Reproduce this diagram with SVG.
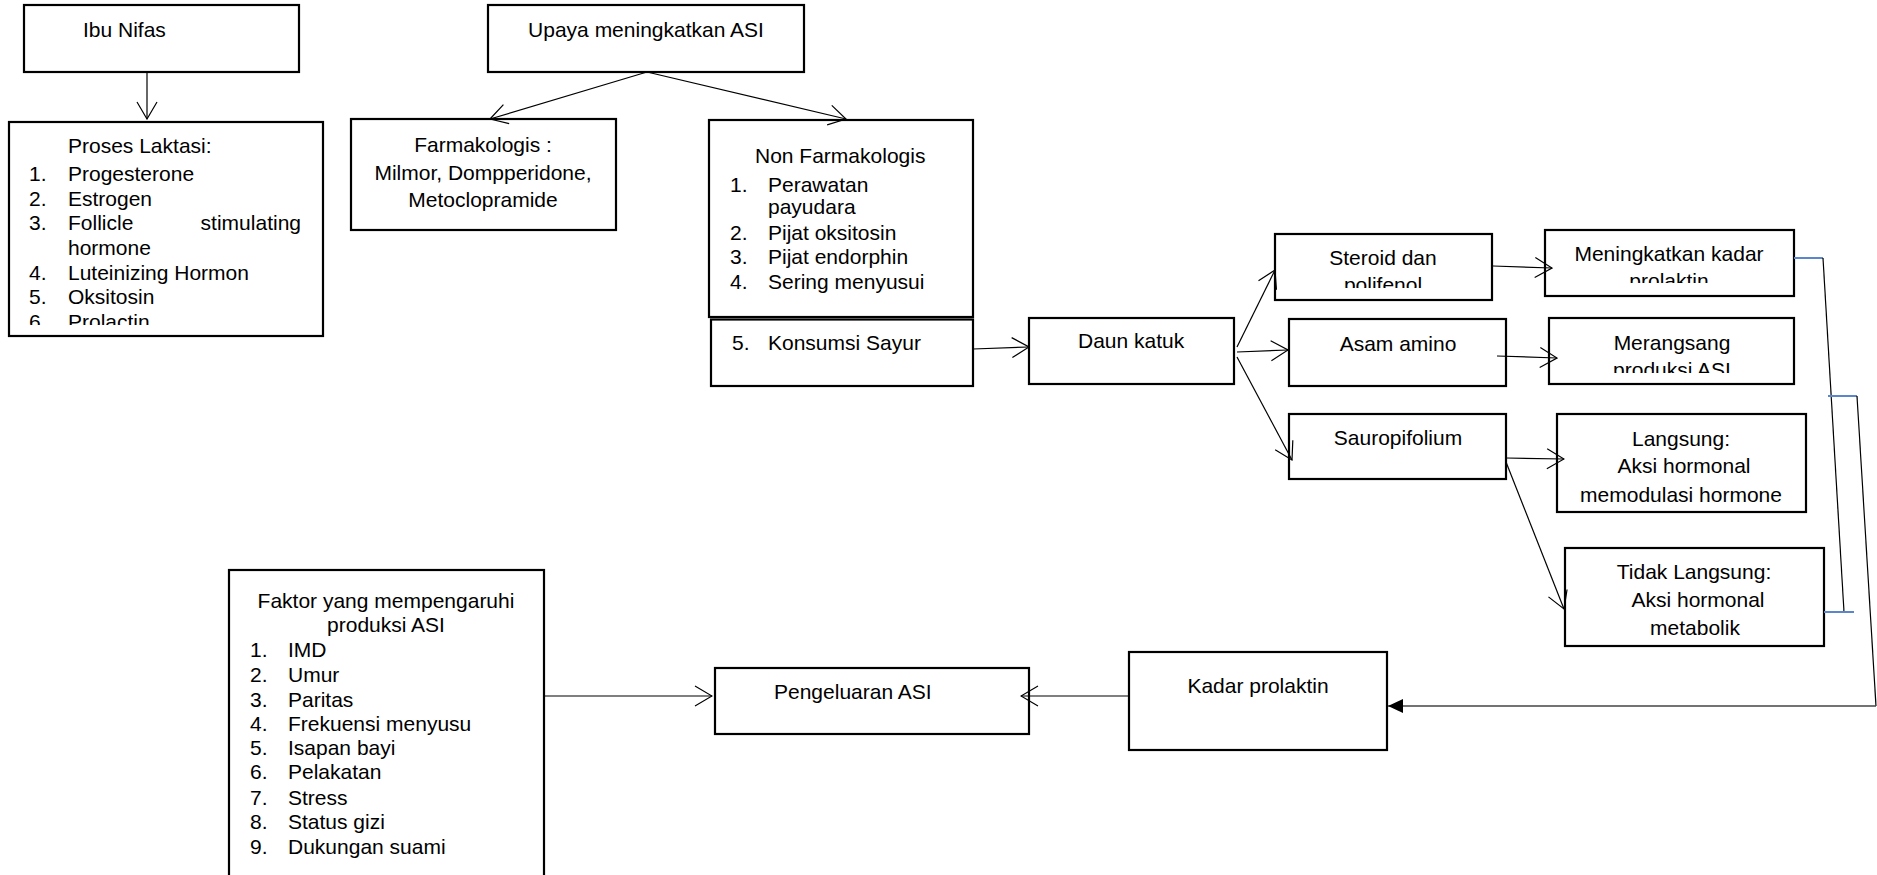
<svg xmlns="http://www.w3.org/2000/svg" width="1877" height="875" viewBox="0 0 1877 875">
<style>
.box{fill:#fff;stroke:#000;stroke-width:2.2}
text{font-family:"Liberation Sans",Arial,sans-serif;font-size:21px;fill:#000}
.c{text-anchor:middle}
.e{text-anchor:end}
.ln{stroke:#000;stroke-width:1.2;fill:none}
.blue{stroke:#5b86cc;stroke-width:2;fill:none}
</style>
<defs>
<marker id="open" markerUnits="userSpaceOnUse" markerWidth="19" markerHeight="22" viewBox="0 0 19 22" refX="18" refY="11" orient="auto">
<path d="M1,1 L18,11 L1,21" fill="none" stroke="#000" stroke-width="1.2"/>
</marker>
<marker id="solid" markerUnits="userSpaceOnUse" markerWidth="16" markerHeight="16" viewBox="0 0 16 16" refX="15" refY="8" orient="auto">
<path d="M0,1 L15,8 L0,15 z" fill="#000"/>
</marker>
<clipPath id="cpL"><rect x="9" y="122" width="314" height="203"/></clipPath>
<clipPath id="cpS"><rect x="1275" y="234" width="217" height="54"/></clipPath>
<clipPath id="cpM"><rect x="1545" y="230" width="249" height="53"/></clipPath>
<clipPath id="cpR"><rect x="1549" y="318" width="245" height="55"/></clipPath>
</defs>

<g id="ibu-nifas">
<rect class="box" x="24" y="5" width="275" height="67"/>
<text x="83" y="37">Ibu Nifas</text>
</g>

<g id="proses-laktasi">
<rect class="box" x="9" y="122" width="314" height="214"/>
<g clip-path="url(#cpL)">
<text x="68" y="153">Proses Laktasi:</text>
<text x="29" y="181">1.</text><text x="68" y="181">Progesterone</text>
<text x="29" y="206">2.</text><text x="68" y="206">Estrogen</text>
<text x="29" y="230">3.</text><text x="68" y="230">Follicle</text><text class="e" x="301" y="230">stimulating</text>
<text x="68" y="255">hormone</text>
<text x="29" y="280">4.</text><text x="68" y="280">Luteinizing Hormon</text>
<text x="29" y="304">5.</text><text x="68" y="304">Oksitosin</text>
<text x="29" y="329">6.</text><text x="68" y="329">Prolactin</text>
</g>
</g>

<g id="upaya">
<rect class="box" x="488" y="5" width="316" height="67"/>
<text class="c" x="646" y="37">Upaya meningkatkan ASI</text>
</g>

<g id="farmakologis">
<rect class="box" x="351" y="119" width="265" height="111"/>
<text class="c" x="483" y="152">Farmakologis :</text>
<text class="c" x="483" y="180">Milmor, Dompperidone,</text>
<text class="c" x="483" y="207">Metoclopramide</text>
</g>

<g id="non-farmakologis">
<rect class="box" x="709" y="120" width="264" height="197"/>
<text x="755" y="163">Non Farmakologis</text>
<text x="730" y="192">1.</text><text x="768" y="192">Perawatan</text>
<text x="768" y="214">payudara</text>
<text x="730" y="240">2.</text><text x="768" y="240">Pijat oksitosin</text>
<text x="730" y="264">3.</text><text x="768" y="264">Pijat endorphin</text>
<text x="730" y="289">4.</text><text x="768" y="289">Sering menyusui</text>
</g>

<g id="konsumsi-sayur">
<rect class="box" x="711" y="319.5" width="262" height="66.5"/>
<text x="732" y="350">5.</text><text x="768" y="350">Konsumsi Sayur</text>
</g>

<g id="daun-katuk">
<rect class="box" x="1029" y="318" width="205" height="66"/>
<text x="1078" y="348">Daun katuk</text>
</g>

<g id="steroid">
<rect class="box" x="1275" y="234" width="217" height="66"/>
<g clip-path="url(#cpS)">
<text class="c" x="1383" y="265">Steroid dan</text>
<text class="c" x="1383" y="292">polifenol</text>
</g>
</g>

<g id="meningkatkan">
<rect class="box" x="1545" y="230" width="249" height="66"/>
<g clip-path="url(#cpM)">
<text class="c" x="1669" y="261">Meningkatkan kadar</text>
<text class="c" x="1669" y="288">prolaktin</text>
</g>
</g>

<g id="asam-amino">
<rect class="box" x="1289" y="319" width="217" height="67"/>
<text class="c" x="1398" y="351">Asam amino</text>
</g>

<g id="merangsang">
<rect class="box" x="1549" y="318" width="245" height="66"/>
<g clip-path="url(#cpR)">
<text class="c" x="1672" y="350">Merangsang</text>
<text class="c" x="1672" y="377">produksi ASI</text>
</g>
</g>

<g id="sauropifolium">
<rect class="box" x="1289" y="414" width="217" height="65"/>
<text class="c" x="1398" y="445">Sauropifolium</text>
</g>

<g id="langsung">
<rect class="box" x="1557" y="414" width="249" height="98"/>
<text class="c" x="1681" y="446">Langsung:</text>
<text class="c" x="1684" y="473">Aksi hormonal</text>
<text class="c" x="1681" y="502">memodulasi hormone</text>
</g>

<g id="tidak-langsung">
<rect class="box" x="1565" y="548" width="259" height="98"/>
<text class="c" x="1694" y="579">Tidak Langsung:</text>
<text class="c" x="1698" y="607">Aksi hormonal</text>
<text class="c" x="1695" y="635">metabolik</text>
</g>

<g id="kadar-prolaktin">
<rect class="box" x="1129" y="652" width="258" height="98"/>
<text class="c" x="1258" y="693">Kadar prolaktin</text>
</g>

<g id="pengeluaran-asi">
<rect class="box" x="715" y="668" width="314" height="66"/>
<text x="774" y="699">Pengeluaran ASI</text>
</g>

<g id="faktor">
<rect class="box" x="229" y="570" width="315" height="310"/>
<text class="c" x="386" y="608">Faktor yang mempengaruhi</text>
<text class="c" x="386" y="632">produksi ASI</text>
<text x="250" y="657">1.</text><text x="288" y="657">IMD</text>
<text x="250" y="682">2.</text><text x="288" y="682">Umur</text>
<text x="250" y="707">3.</text><text x="288" y="707">Paritas</text>
<text x="250" y="731">4.</text><text x="288" y="731">Frekuensi menyusu</text>
<text x="250" y="755">5.</text><text x="288" y="755">Isapan bayi</text>
<text x="250" y="779">6.</text><text x="288" y="779">Pelakatan</text>
<text x="250" y="805">7.</text><text x="288" y="805">Stress</text>
<text x="250" y="829">8.</text><text x="288" y="829">Status gizi</text>
<text x="250" y="854">9.</text><text x="288" y="854">Dukungan suami</text>
</g>

<g id="connectors">
<line class="ln" x1="147" y1="72" x2="147" y2="119" marker-end="url(#open)"/>
<line class="ln" x1="647" y1="72" x2="490" y2="119" marker-end="url(#open)"/>
<line class="ln" x1="647" y1="72" x2="846" y2="119" marker-end="url(#open)"/>
<line class="ln" x1="973" y1="349" x2="1029" y2="347" marker-end="url(#open)"/>
<line class="ln" x1="1237" y1="347" x2="1275" y2="270" marker-end="url(#open)"/>
<line class="ln" x1="1237" y1="352" x2="1288" y2="350" marker-end="url(#open)"/>
<line class="ln" x1="1237" y1="357" x2="1292" y2="460" marker-end="url(#open)"/>
<line class="ln" x1="1493" y1="266" x2="1552" y2="268" marker-end="url(#open)"/>
<line class="ln" x1="1497" y1="356" x2="1557" y2="358" marker-end="url(#open)"/>
<line class="ln" x1="1506" y1="458" x2="1564" y2="459" marker-end="url(#open)"/>
<line class="ln" x1="1506" y1="462" x2="1564" y2="609" marker-end="url(#open)"/>
<line class="ln" x1="544" y1="696" x2="712" y2="696" marker-end="url(#open)"/>
<line class="ln" x1="1129" y1="696" x2="1021" y2="696" stroke="#444" stroke-width="1.5" marker-end="url(#open)"/>
<line class="blue" x1="1794" y1="258" x2="1823" y2="258"/>
<line class="ln" x1="1823" y1="258" x2="1844" y2="612"/>
<line class="blue" x1="1824" y1="612" x2="1854" y2="612"/>
<line class="blue" x1="1828" y1="396" x2="1857" y2="396"/>
<line class="ln" x1="1857" y1="396" x2="1876" y2="706"/>
<line x1="1876" y1="706" x2="1388" y2="706" stroke="#444" stroke-width="1.5" marker-end="url(#solid)"/>
</g>
</svg>
